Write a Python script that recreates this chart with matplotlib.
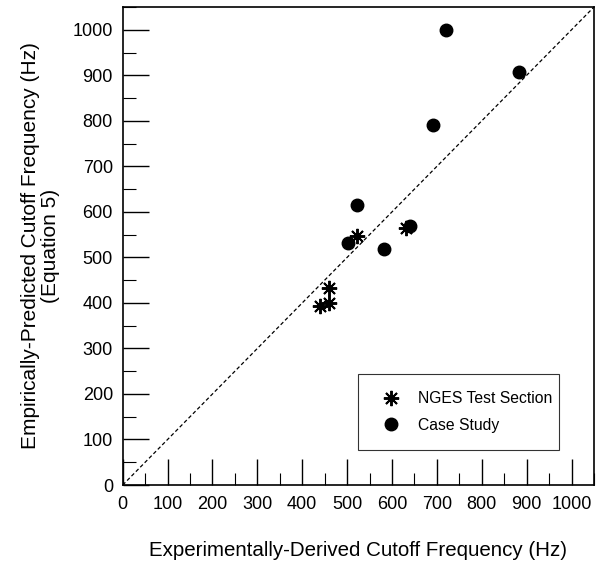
import numpy as np
import matplotlib.pyplot as plt
from matplotlib.ticker import MultipleLocator

plt.rcParams['font.family'] = ['Liberation Sans', 'DejaVu Sans']

# NGES test section points
nges_x = [522, 631, 460, 439, 460]
nges_y = [547, 564, 433, 394, 399]

# case study points
case_x = [721, 882, 691, 522, 641, 501, 582]
case_y = [1000, 908, 791, 616, 569, 532, 518]

fig = plt.figure(figsize=(6.03, 5.67), dpi=100)
ax = fig.add_axes([0.2035, 0.1446, 0.7815, 0.843])

# 1:1 line
ax.plot([0, 1050], [0, 1050], color='black', ls=(0, (3, 2)), lw=0.9)

ax.plot(nges_x, nges_y, ls='none', marker=(8, 2, 0), ms=11, mew=1.4,
        color='black', label='NGES Test Section')
ax.plot(case_x, case_y, ls='none', marker='o', ms=9,
        color='black', label='Case Study')

ax.set_xlim(0, 1050)
ax.set_ylim(0, 1050)
ax.xaxis.set_major_locator(MultipleLocator(100))
ax.xaxis.set_minor_locator(MultipleLocator(50))
ax.yaxis.set_major_locator(MultipleLocator(100))
ax.yaxis.set_minor_locator(MultipleLocator(50))
ax.tick_params(which='major', direction='in', length=19, width=1, labelsize=13)
ax.tick_params(axis='x', which='major', pad=8)
ax.tick_params(axis='y', which='major', pad=7)
ax.tick_params(which='minor', direction='in', length=9, width=0.8)
ax.tick_params(top=False, right=False)
for s in ax.spines.values():
    s.set_linewidth(1.2)

ax.set_xlabel('Experimentally-Derived Cutoff Frequency (Hz)', fontsize=14.8, labelpad=20)
ax.set_ylabel('Empirically-Predicted Cutoff Frequency (Hz)\n(Equation 5)', fontsize=15,
              labelpad=9, linespacing=1.05)

leg = ax.legend(loc='lower left', bbox_to_anchor=(0.499, 0.073, 0.427, 0.163), mode='expand',
                fontsize=11.3, frameon=True, fancybox=False, borderpad=1.1,
                labelspacing=0.75, handletextpad=0.7, markerfirst=True, borderaxespad=0)
leg.get_frame().set_edgecolor('black')
leg.get_frame().set_linewidth(0.8)

fig.savefig('out.png', dpi=100)
